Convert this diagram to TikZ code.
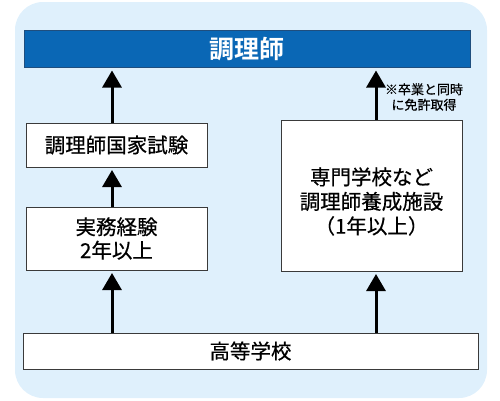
\documentclass[tikz,border=0pt]{standalone}
\usepackage{fontspec}
\newfontfamily\jp[FakeBold=0.5]{Noto Sans CJK JP}
\newfontfamily\jpbold{Noto Sans CJK JP Bold}
\usetikzlibrary{arrows.meta}
\definecolor{bgblue}{HTML}{DFF0FC}
\definecolor{barblue}{HTML}{0A67B5}
\definecolor{barline}{HTML}{1F4E7E}
\definecolor{boxline}{HTML}{3A3A3A}
\tikzset{
  whitebox/.style={draw=boxline, line width=1pt, fill=white, rectangle, inner sep=0pt, align=center,
    font=\jp\fontsize{20.5}{23.5}\selectfont},
  uparrow/.style={line width=3pt, -{Triangle[width=19pt,length=17pt]}, shorten >=2.5pt},
}
\begin{document}
\begin{tikzpicture}[x=1pt,y=-1pt]
\useasboundingbox (0,0) rectangle (500,400);
\fill[bgblue, rounded corners=28pt] (15,2) rectangle (487,398);
\node[draw=barline, line width=1pt, fill=barblue, minimum width=446pt, minimum height=37pt, inner sep=0pt,
  text=white, font=\jpbold\fontsize{25}{28}\selectfont] (title) at (247,49) {調理師};
\node[whitebox, minimum width=181pt, minimum height=44pt] (exam) at (116.5,145) {調理師国家試験};
\node[whitebox, minimum width=181pt, minimum height=63pt] (work) at (116.5,238.5) {実務経験\\2年以上};
\node[whitebox, minimum width=181pt, minimum height=151pt] (school) at (371.5,195.5) {};
\node[align=center, inner sep=0pt, font=\jp\fontsize{20.5}{24.5}\selectfont] (schooltext) at (371.5,201.5) {専門学校など\\調理師養成施設\\（1年以上）};
\node[whitebox, minimum width=455pt, minimum height=36pt] (high) at (250.5,351) {高等学校};
\node[align=center, inner sep=0pt, font=\jp\fontsize{13}{15.5}\selectfont] (note) at (424,97) {※卒業と同時\\に免許取得};
\coordinate (lx) at (112,0);
\coordinate (rx) at (376,0);
\draw[uparrow] (high.north -| lx) -- (work.south -| lx);
\draw[uparrow] (work.north -| lx) -- (exam.south -| lx);
\draw[uparrow] (exam.north -| lx) -- (title.south -| lx);
\draw[uparrow] (high.north -| rx) -- (school.south -| rx);
\draw[uparrow] (school.north -| rx) -- (title.south -| rx);
\end{tikzpicture}
\end{document}
